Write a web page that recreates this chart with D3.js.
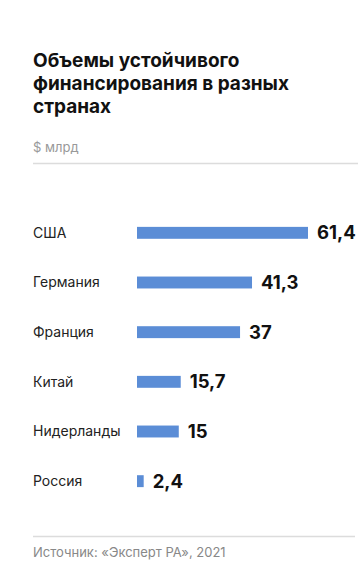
<!DOCTYPE html>
<html>
<head>
<meta charset="utf-8">
<script src="https://cdn.jsdelivr.net/npm/d3@7"></script>
<style>
  html, body { margin: 0; padding: 0; background: #fff; }
  svg text { font-family: Inter, "Open Sans", "Noto Sans", sans-serif; }
</style>
</head>
<body>
<div id="chart"></div>
<script>
// data
var countries = ["США", "Германия", "Франция", "Китай", "Нидерланды", "Россия"];
var values = [61.4, 41.3, 37, 15.7, 15, 2.4];
var valueLabels = ["61,4", "41,3", "37", "15,7", "15", "2,4"];
var titleLines = ["Объемы устойчивого", "финансирования в разных", "странах"];
var unitLabel = "$ млрд";
var sourceLabel = "Источник: «Эксперт РА», 2021";

var width = 364, height = 576;
var margin = {left: 33, right: 6};

var svg = d3.select("#chart").append("svg")
    .attr("width", width)
    .attr("height", height);

// title
svg.append("text")
    .attr("x", margin.left)
    .attr("y", 67)
    .attr("font-size", 19)
    .attr("font-weight", 700)
    .attr("fill", "#111")
    .selectAll("tspan")
    .data(titleLines)
    .enter().append("tspan")
    .attr("x", margin.left)
    .attr("dy", (d, i) => i ? 23 : 0)
    .text(d => d);

svg.append("text")
    .attr("x", margin.left)
    .attr("y", 152)
    .attr("font-size", 13)
    .attr("fill", "#999")
    .text(unitLabel);

svg.append("line")
    .attr("x1", margin.left).attr("x2", 358)
    .attr("y1", 163.5).attr("y2", 163.5)
    .attr("stroke", "#dcdcdc")
    .attr("stroke-width", 1.5);

// scales
var x = d3.scaleLinear()
    .domain([0, 61.4])
    .range([137, 308]);

var y = d3.scaleBand()
    .domain(countries)
    .range([208, 506])
    .paddingInner(0.76)
    .paddingOuter(0.38);

var rows = svg.append("g")
    .selectAll("g")
    .data(countries)
    .enter().append("g")
    .attr("transform", d => "translate(0," + y(d) + ")");

rows.append("text")
    .attr("x", margin.left)
    .attr("y", y.bandwidth() / 2)
    .attr("dy", "0.35em")
    .attr("font-size", 14)
    .attr("fill", "#222")
    .text(d => d);

rows.append("rect")
    .attr("x", x(0))
    .attr("width", (d, i) => x(values[i]) - x(0))
    .attr("height", y.bandwidth())
    .attr("fill", "#5b8dd6");

rows.append("text")
    .attr("x", (d, i) => x(values[i]) + 9)
    .attr("y", y.bandwidth() / 2)
    .attr("dy", "0.36em")
    .attr("font-size", 18.5)
    .attr("font-weight", 700)
    .attr("fill", "#111")
    .text((d, i) => valueLabels[i]);

// footer
svg.append("line")
    .attr("x1", margin.left).attr("x2", 355)
    .attr("y1", 536.5).attr("y2", 536.5)
    .attr("stroke", "#dcdcdc")
    .attr("stroke-width", 1.5);

svg.append("text")
    .attr("x", margin.left)
    .attr("y", 557)
    .attr("font-size", 13)
    .attr("fill", "#888")
    .text(sourceLabel);
</script>
</body>
</html>
